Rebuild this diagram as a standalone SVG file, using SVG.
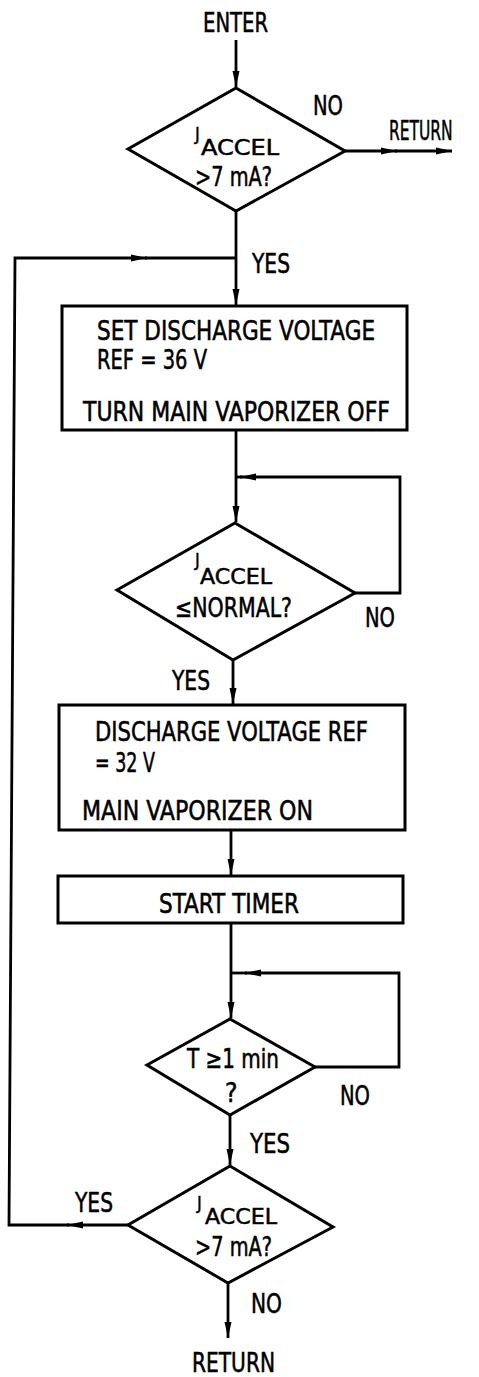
<svg xmlns="http://www.w3.org/2000/svg" width="479" height="1377" viewBox="0 0 479 1377">
<defs>
<style>
.t{font-family:"Liberation Sans Narrow","DejaVu Sans Condensed","Liberation Sans",sans-serif;font-size:26px;fill:#000;stroke:#000;stroke-width:0.5}
.s{font-family:"Liberation Sans Narrow","DejaVu Sans Condensed","Liberation Sans",sans-serif;font-size:18px;fill:#000;stroke:#000;stroke-width:0.4}
.m{font-family:"Liberation Sans Narrow","DejaVu Sans Condensed","Liberation Sans",sans-serif;font-size:22px;fill:#000;stroke:#000;stroke-width:0.5}
.shape{fill:#fff;stroke:#000;stroke-width:3;stroke-linejoin:miter}
.ln{fill:none;stroke:#000;stroke-width:2.8}
</style>
<marker id="arr" viewBox="0 0 16 8" refX="16" refY="4" markerWidth="16" markerHeight="8" markerUnits="userSpaceOnUse" orient="auto">
<path d="M0,0.5 L16,4 L0,7.5 z" fill="#000"/>
</marker>
</defs>
<rect x="0" y="0" width="479" height="1377" fill="#fff"/>

<g id="connectors">
<path class="ln" d="M236,40 V87" marker-end="url(#arr)"/>
<path class="ln" d="M345,151 H397" marker-end="url(#arr)"/>
<path class="ln" d="M395,151 H452" marker-end="url(#arr)"/>
<path class="ln" d="M236,211 V305" marker-end="url(#arr)"/>
<path class="ln" d="M128,1225 H67" marker-end="url(#arr)"/>
<path class="ln" d="M69,1225 H9 L15,258 H147" marker-end="url(#arr)"/>
<path class="ln" d="M145,258 H236"/>
<path class="ln" d="M236,430 V522" marker-end="url(#arr)"/>
<path class="ln" d="M355,593 H400 V477 H240" marker-end="url(#arr)"/>
<path class="ln" d="M242,477 H236"/>
<path class="ln" d="M233,660 V704" marker-end="url(#arr)"/>
<path class="ln" d="M231,830 V875" marker-end="url(#arr)"/>
<path class="ln" d="M231,923 V1018" marker-end="url(#arr)"/>
<path class="ln" d="M315,1067 H399 V973 H245" marker-end="url(#arr)"/>
<path class="ln" d="M247,973 H231"/>
<path class="ln" d="M230,1115 V1165" marker-end="url(#arr)"/>
<path class="ln" d="M228,1283 V1338" marker-end="url(#arr)"/>
</g>

<g id="enter"><text class="t" x="203" y="32" textLength="65" lengthAdjust="spacingAndGlyphs">ENTER</text></g>

<g id="decision1">
<polygon class="shape" points="236,88 345,151 236,211 128,149"/>
<text class="s" x="195" y="140">J</text>
<text class="m" x="201" y="155" textLength="78" lengthAdjust="spacingAndGlyphs">ACCEL</text>
<text class="t" x="195" y="186" textLength="77" lengthAdjust="spacingAndGlyphs">&gt;7 mA?</text>
</g>
<g id="return1"><text class="t" transform="translate(389,140) scale(0.7,1)" x="0" y="0" textLength="91" lengthAdjust="spacingAndGlyphs">RETURN</text></g>

<g id="labels">
<text class="t" x="313" y="115" textLength="30" lengthAdjust="spacingAndGlyphs">NO</text>
<text class="t" x="252" y="273" textLength="38" lengthAdjust="spacingAndGlyphs">YES</text>
<text class="t" x="365" y="627" textLength="30" lengthAdjust="spacingAndGlyphs">NO</text>
<text class="t" x="172" y="690" textLength="38" lengthAdjust="spacingAndGlyphs">YES</text>
<text class="t" x="340" y="1105" textLength="30" lengthAdjust="spacingAndGlyphs">NO</text>
<text class="t" x="250" y="1153" textLength="40" lengthAdjust="spacingAndGlyphs">YES</text>
<text class="t" x="75" y="1212" textLength="38" lengthAdjust="spacingAndGlyphs">YES</text>
<text class="t" x="251" y="1313" textLength="31" lengthAdjust="spacingAndGlyphs">NO</text>
</g>

<g id="box1">
<rect class="shape" x="62" y="306" width="345" height="124"/>
<text class="t" x="97" y="340" textLength="278" lengthAdjust="spacingAndGlyphs">SET DISCHARGE VOLTAGE</text>
<text class="t" x="97" y="369" textLength="110" lengthAdjust="spacingAndGlyphs">REF = 36 V</text>
<text class="t" x="83" y="421" textLength="307" lengthAdjust="spacingAndGlyphs">TURN MAIN VAPORIZER OFF</text>
</g>

<g id="decision2">
<polygon class="shape" points="235,523 355,593 233,660 117,590"/>
<text class="s" x="195" y="566">J</text>
<text class="m" x="200" y="584" textLength="72" lengthAdjust="spacingAndGlyphs">ACCEL</text>
<text class="t" x="175" y="617" textLength="117" lengthAdjust="spacingAndGlyphs">≤NORMAL?</text>
</g>

<g id="box2">
<rect class="shape" x="59" y="705" width="346" height="125"/>
<text class="t" x="95" y="741" textLength="273" lengthAdjust="spacingAndGlyphs">DISCHARGE VOLTAGE REF</text>
<text class="t" x="95" y="772" textLength="60" lengthAdjust="spacingAndGlyphs">= 32 V</text>
<text class="t" x="82" y="820" textLength="231" lengthAdjust="spacingAndGlyphs">MAIN VAPORIZER ON</text>
</g>

<g id="box3">
<rect class="shape" x="58" y="876" width="345" height="47"/>
<text class="t" x="159" y="913" textLength="140" lengthAdjust="spacingAndGlyphs">START TIMER</text>
</g>

<g id="decision3">
<polygon class="shape" points="230,1019 315,1067 230,1115 147,1065"/>
<text class="t" x="187" y="1068" textLength="92" lengthAdjust="spacingAndGlyphs">T ≥1 min</text>
<text class="t" x="225" y="1102">?</text>
</g>

<g id="decision4">
<polygon class="shape" points="230,1166 333,1227 228,1283 128,1225"/>
<text class="s" x="197" y="1209">J</text>
<text class="m" x="205" y="1224" textLength="72" lengthAdjust="spacingAndGlyphs">ACCEL</text>
<text class="t" x="195" y="1256" textLength="77" lengthAdjust="spacingAndGlyphs">&gt;7 mA?</text>
</g>

<g id="return2"><text class="t" x="192" y="1372" textLength="83" lengthAdjust="spacingAndGlyphs">RETURN</text></g>
</svg>
